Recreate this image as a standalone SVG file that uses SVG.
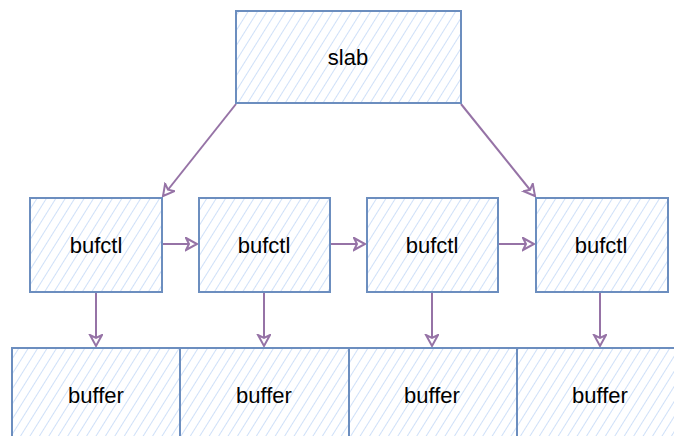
<svg xmlns="http://www.w3.org/2000/svg" width="674" height="436" viewBox="0 0 674 436">
<style>
.box{fill:url(#hatch);stroke:#6c8ebf;stroke-width:2}
.lbl{font-family:"Liberation Sans",Arial,sans-serif;font-size:22px;fill:#000;text-anchor:middle;dominant-baseline:central}
.conn{fill:none;stroke:#9673a6;stroke-width:2;marker-end:url(#arr)}
</style>
<defs>
<pattern id="hatch" patternUnits="userSpaceOnUse" width="8" height="8" patternTransform="rotate(32)">
<rect width="8" height="8" fill="#ffffff"/>
<line x1="0" y1="0" x2="0" y2="8" stroke="#cfe0f8" stroke-width="2"/>
</pattern>
<marker id="arr" markerWidth="16" markerHeight="16" refX="12" refY="7" orient="auto" markerUnits="userSpaceOnUse">
<path d="M1,1 L12,7 L1,13 L4,7 Z" fill="#ffffff" stroke="#9673a6" stroke-width="2" stroke-linejoin="miter"/>
</marker>
</defs>
<g id="connectors">
<path class="conn" d="M236,104 L163,196"/>
<path class="conn" d="M461,104 L535,196"/>
<path class="conn" d="M163,244 L197,244"/>
<path class="conn" d="M331,244 L365,244"/>
<path class="conn" d="M499,244 L534,244"/>
<path class="conn" d="M96,293 L96,346"/>
<path class="conn" d="M264,293 L264,346"/>
<path class="conn" d="M432,293 L432,346"/>
<path class="conn" d="M600,293 L600,346"/>
</g>
<g id="slab"><rect class="box" x="236" y="11" width="225" height="92"/><text class="lbl" x="348" y="57">slab</text></g>
<g id="bufctl1"><rect class="box" x="30" y="198" width="132" height="94"/><text class="lbl" x="96" y="245">bufctl</text></g>
<g id="bufctl2"><rect class="box" x="199" y="198" width="131" height="94"/><text class="lbl" x="264" y="245">bufctl</text></g>
<g id="bufctl3"><rect class="box" x="367" y="198" width="131" height="94"/><text class="lbl" x="432" y="245">bufctl</text></g>
<g id="bufctl4"><rect class="box" x="536" y="198" width="132" height="94"/><text class="lbl" x="601" y="245">bufctl</text></g>
<g id="buffer1"><rect class="box" x="12" y="348" width="168" height="100"/><text class="lbl" x="96" y="395">buffer</text></g>
<g id="buffer2"><rect class="box" x="180" y="348" width="169" height="100"/><text class="lbl" x="264" y="395">buffer</text></g>
<g id="buffer3"><rect class="box" x="349" y="348" width="168" height="100"/><text class="lbl" x="432" y="395">buffer</text></g>
<g id="buffer4"><rect class="box" x="517" y="348" width="170" height="100"/><text class="lbl" x="600" y="395">buffer</text></g>
</svg>
